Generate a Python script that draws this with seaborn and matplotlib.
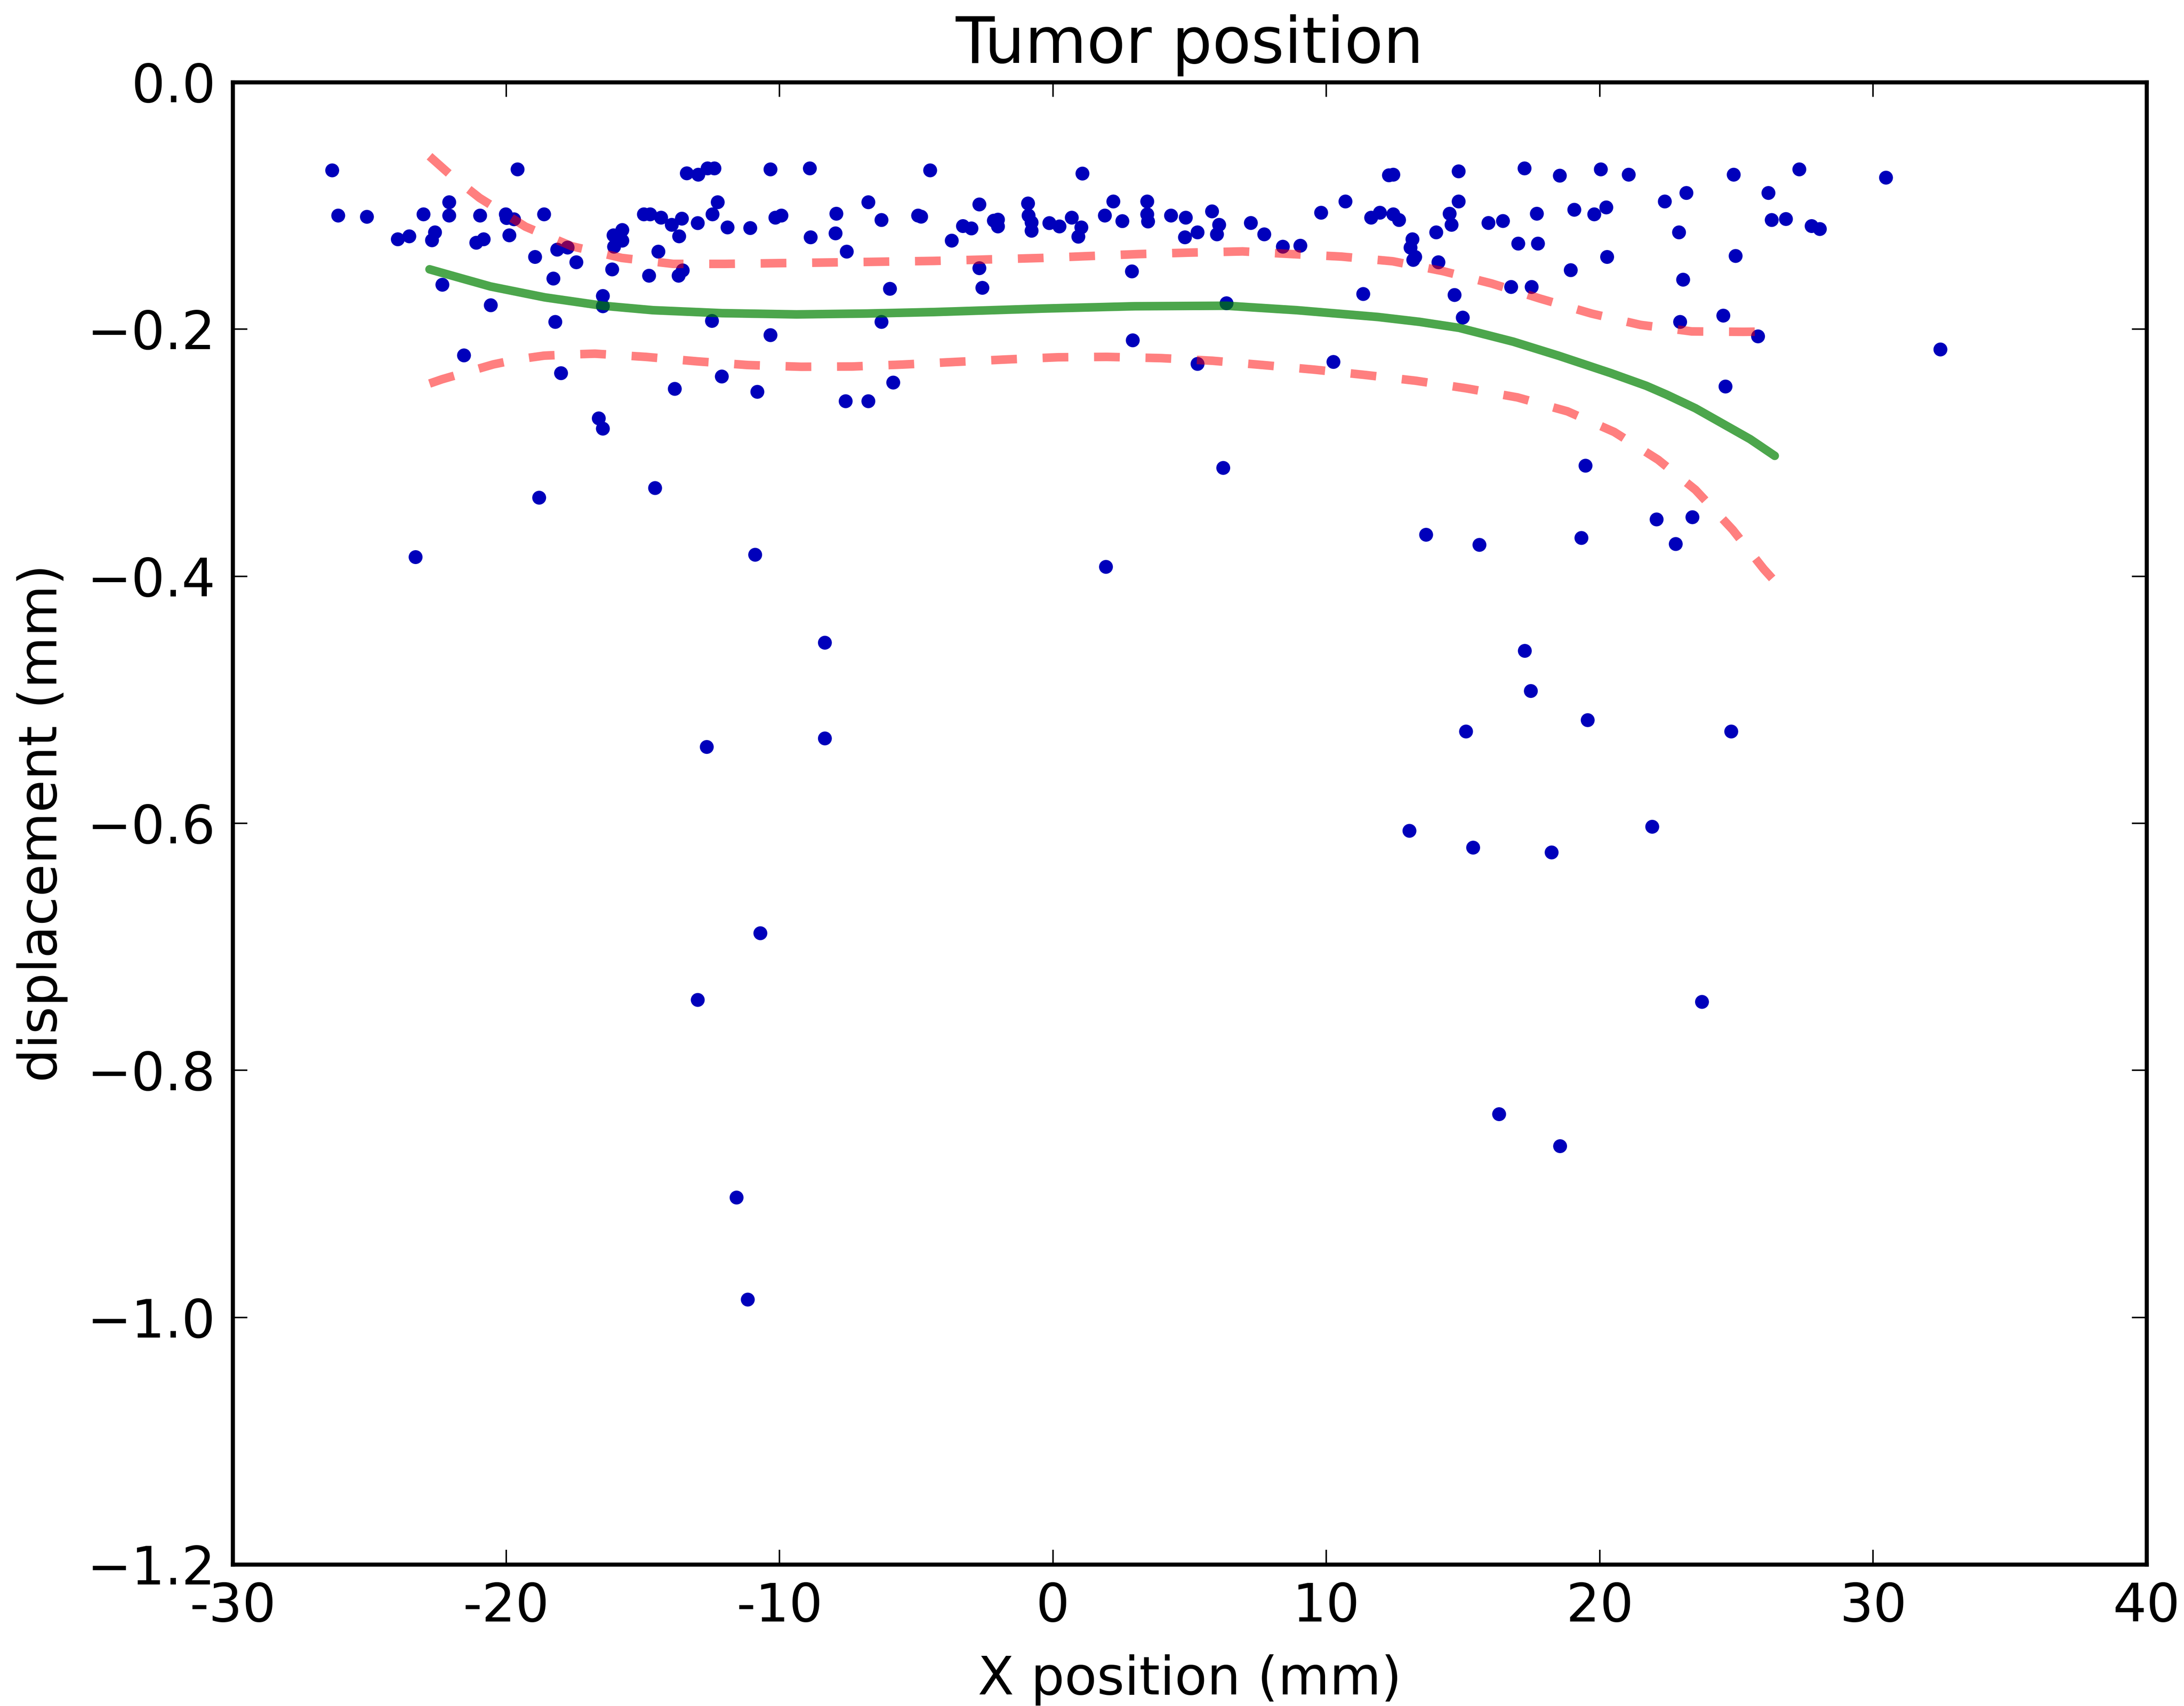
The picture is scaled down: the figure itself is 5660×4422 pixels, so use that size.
import matplotlib
matplotlib.use("Agg")
import matplotlib.pyplot as plt
import seaborn as sns
import numpy as np

# ---------------- data ----------------
scatter_x = [
    -26.36, -19.58, -13.39, -12.97, -12.63, -12.38,
    -22.08, -26.14, -25.09, -23.02, -22.08, -20.95, -20.01, -19.98, -19.71, -18.61,
    -23.96, -23.54, -22.60, -22.71, -21.09, -20.82, -19.88,
    -18.94, -18.13, -17.75, -17.43, -16.12, -16.07, -15.75, -15.75, -16.05,
    -14.96, -14.73, -14.33, -13.94, -13.57, -12.99, -12.45, -12.26, -13.67, -14.43, -14.77, -13.69, -13.54,
    -18.27, -22.33, -16.46, -16.46, -20.56, -18.20, -12.47, -21.54, -17.99, -12.11, -13.83, -16.61, -16.46,
    -10.33, -8.89, -4.49, 1.08, -11.90, -11.07, -10.15, -9.93, -8.86, -7.92, -7.95, -7.54, -6.75, -6.27,
    -4.93, -4.82, -3.70, -3.29, -2.98, -2.69, -2.16, -2.01, -2.01, -0.91, -0.89, -0.78, -0.78, -0.13,
    0.24, 0.69, 1.04, 0.93, 1.90, 2.21, 2.54, -2.69, 2.89, -5.96, -2.58, -6.27, -10.33, 2.92,
    -10.81, -5.84, -7.58, -6.75,
    3.45, 3.45, 3.48, 4.32, 4.86, 5.82, 6.08, 6.00, 5.29, 4.83, 7.24, 7.73, 8.41, 9.05, 9.81, 10.70,
    11.64, 11.96, 12.45, 12.66, 12.29, 12.45, 14.84, 14.84, 14.51, 14.58, 14.02, 13.15, 13.08, 13.25,
    13.18, 14.10, 17.25, 15.93, 16.46, 17.70, 17.02, 17.74, 16.76, 17.51, 11.35, 14.69, 14.99, 6.35,
    5.29, 10.26,
    18.54, 20.04, 21.06, 24.90, 27.30, 30.47, 19.07, 19.80, 20.24, 22.38, 23.17, 26.17, 22.90, 26.29,
    26.81, 27.75, 28.05, 20.27, 18.94, 24.97, 23.05, 22.94, 24.52, 25.79, 32.46, 24.60,
    -18.79, -14.55, -23.31, -10.89, -8.34, -8.34, -12.66, -10.70, -12.99, -11.57, -11.16,
    1.94, 6.23, 19.48, 13.65, 15.60, 19.33, 22.08, 23.39, 22.78, 17.26, 17.48, 19.56, 15.11, 24.81,
    13.04, 15.37, 18.24, 21.92, 23.74, 16.32, 18.55,
]
scatter_y = [
    -0.0714, -0.0706, -0.0738, -0.0749, -0.0698, -0.0698,
    -0.0972, -0.1080, -0.1090, -0.1070, -0.1080, -0.1080, -0.1070, -0.1100, -0.1110, -0.1070,
    -0.1272, -0.1248, -0.1216, -0.1280, -0.1300, -0.1272, -0.1240,
    -0.1415, -0.1356, -0.1339, -0.1458, -0.1516, -0.1240, -0.1197, -0.1283, -0.1332,
    -0.1070, -0.1070, -0.1097, -0.1155, -0.1105, -0.1141, -0.1070, -0.0972, -0.1248, -0.1372, -0.1567, -0.1567, -0.1524,
    -0.1590, -0.1640, -0.1731, -0.1814, -0.1806, -0.1941, -0.1933, -0.2212, -0.2356, -0.2383, -0.2483, -0.2722, -0.2805,
    -0.0706, -0.0698, -0.0714, -0.0740, -0.1176, -0.1181, -0.1097, -0.1080, -0.1256, -0.1065, -0.1224, -0.1372, -0.0972, -0.1116,
    -0.1080, -0.1089, -0.1283, -0.1165, -0.1184, -0.0990, -0.1121, -0.1113, -0.1168, -0.0982, -0.1080, -0.1136, -0.1203, -0.1141,
    -0.1168, -0.1097, -0.1176, -0.1251, -0.1080, -0.0966, -0.1125, -0.1506, -0.1532, -0.1673, -0.1665, -0.1941, -0.2048, -0.2090,
    -0.2507, -0.2432, -0.2583, -0.2583,
    -0.0966, -0.1070, -0.1128, -0.1080, -0.1097, -0.1046, -0.1155, -0.1232, -0.1216, -0.1256, -0.1140, -0.1232, -0.1332, -0.1324, -0.1057, -0.0966,
    -0.1097, -0.1057, -0.1070, -0.1116, -0.0754, -0.0749, -0.0722, -0.0966, -0.1065, -0.1155, -0.1216, -0.1272, -0.1340, -0.1415,
    -0.1439, -0.1458, -0.0698, -0.1140, -0.1124, -0.1065, -0.1307, -0.1307, -0.1658, -0.1658, -0.1715, -0.1723, -0.1906, -0.1790,
    -0.2281, -0.2265,
    -0.0757, -0.0706, -0.0749, -0.0749, -0.0706, -0.0773, -0.1033, -0.1070, -0.1014, -0.0966, -0.0897, -0.0897, -0.1216, -0.1116,
    -0.1108, -0.1165, -0.1189, -0.1415, -0.1522, -0.1407, -0.1599, -0.1941, -0.1890, -0.2058, -0.2164, -0.2464,
    -0.3364, -0.3286, -0.3845, -0.3826, -0.4538, -0.5313, -0.5382, -0.6890, -0.7430, -0.9030, -0.9856,
    -0.3924, -0.3123, -0.3105, -0.3664, -0.3746, -0.3690, -0.3540, -0.3522, -0.3739, -0.4604, -0.4929, -0.5165, -0.5257, -0.5257,
    -0.6061, -0.6197, -0.6236, -0.6028, -0.7446, -0.8355, -0.8614,
]

fit_x = [-22.80, -21.60, -20.57, -18.59, -16.46, -14.63, -12.10, -9.38, -6.80, -4.34, -0.38, 3.00, 6.35,
         8.92, 11.89, 13.40, 14.86, 16.84, 18.50, 20.40, 21.70, 22.45, 23.50, 24.50, 25.50, 26.40]
fit_y = [-0.1515, -0.1590, -0.1654, -0.1742, -0.1810, -0.1846, -0.1870, -0.1880, -0.1873, -0.1861, -0.1833, -0.1814, -0.1810,
         -0.1846, -0.1901, -0.1940, -0.1989, -0.2101, -0.2215, -0.2355, -0.2458, -0.2530, -0.2640, -0.2765, -0.2890, -0.3025]

upper_x = [-22.80, -22.06, -20.97, -19.29, -17.60, -15.77, -13.89, -12.00, -8.30, -4.34, -0.38, 3.10,
           4.96, 6.94, 8.67, 10.55, 12.43, 14.27, 16.05, 17.83, 19.71, 21.49, 23.37, 25.25, 26.40]
upper_y = [-0.0600, -0.0746, -0.0937, -0.1170, -0.1328, -0.1423, -0.1471, -0.1471, -0.1460, -0.1447, -0.1423, -0.1392,
           -0.1380, -0.1370, -0.1391, -0.1412, -0.1450, -0.1530, -0.1630, -0.1753, -0.1874, -0.1965, -0.2018, -0.2021, -0.2018]

lower_x = [-22.80, -22.34, -20.47, -19.58, -18.61, -17.60, -16.75, -14.89, -13.02, -11.16, -9.21, -7.35, -5.49, -3.59,
           -1.72, 0.19, 1.97, 3.96, 5.82, 7.68, 9.55, 11.41, 13.27, 15.13, 16.99, 18.82, 20.53, 22.13,
           23.50, 24.86, 26.00, 26.40]
lower_y = [-0.2440, -0.2405, -0.2285, -0.2244, -0.2214, -0.2204, -0.2198, -0.2224, -0.2260, -0.2290, -0.2304, -0.2302, -0.2286, -0.2265,
           -0.2245, -0.2227, -0.2224, -0.2234, -0.2255, -0.2290, -0.2327, -0.2370, -0.2417, -0.2479, -0.2552, -0.2665, -0.2832, -0.3056,
           -0.3300, -0.3623, -0.3942, -0.4040]

x_ticks = [-30, -20, -10, 0, 10, 20, 30, 40]
x_tick_labels = ["-30", "-20", "-10", "0", "10", "20", "30", "40"]
y_ticks = [0.0, -0.2, -0.4, -0.6, -0.8, -1.0, -1.2]

title = "Tumor position"
x_label = "X position (mm)"
y_label = "displacement (mm)"

# ---------------- style ----------------
sns.set_style("white")
plt.rcParams["font.family"] = ["DejaVu Sans"]
plt.rcParams["lines.scale_dashes"] = False
for key in ("text.color", "axes.labelcolor", "xtick.color", "ytick.color", "axes.edgecolor"):
    plt.rcParams[key] = "black"

FS = 24.7
fig = plt.figure(figsize=(14.15, 11.055), dpi=400)
ax = fig.add_axes([0.10654, 0.08299, 0.98286 - 0.10654, 0.95183 - 0.08299])

sns.scatterplot(x=scatter_x, y=scatter_y, ax=ax, s=42, color="#0000BB",
                edgecolor="none", linewidth=0, zorder=2, legend=False)

sns.lineplot(x=fit_x, y=fit_y, ax=ax, sort=False, estimator=None,
             color="g", alpha=0.7, linewidth=4.0, zorder=3)
for xs, ys in ((upper_x, upper_y), (lower_x, lower_y)):
    sns.lineplot(x=xs, y=ys, ax=ax, sort=False, estimator=None,
                 color="r", alpha=0.5, linewidth=4.0, zorder=3)
    ax.lines[-1].set_dashes((12, 12))
    ax.lines[-1].set_dash_capstyle("butt")

ax.set_xlim(-30, 40)
ax.set_ylim(-1.2, 0.0)
ax.set_xticks(x_ticks)
ax.set_xticklabels(x_tick_labels)
ax.set_yticks(y_ticks)

for sp in ax.spines.values():
    sp.set_visible(True)
    sp.set_color("black")
    sp.set_linewidth(1.9)

ax.tick_params(axis="both", which="major", direction="in", length=6.9, width=0.7,
               colors="black", labelcolor="black", labelsize=FS, pad=8, top=True, right=True,
               bottom=True, left=True)

ax.set_title(title, fontsize=FS * 1.2, pad=9, color="black")
ax.set_xlabel(x_label, fontsize=FS, labelpad=10, color="black")
ax.set_ylabel(y_label, fontsize=FS, labelpad=9, color="black")
ax.grid(False)

fig.savefig("out.png", dpi=400, facecolor="white")
